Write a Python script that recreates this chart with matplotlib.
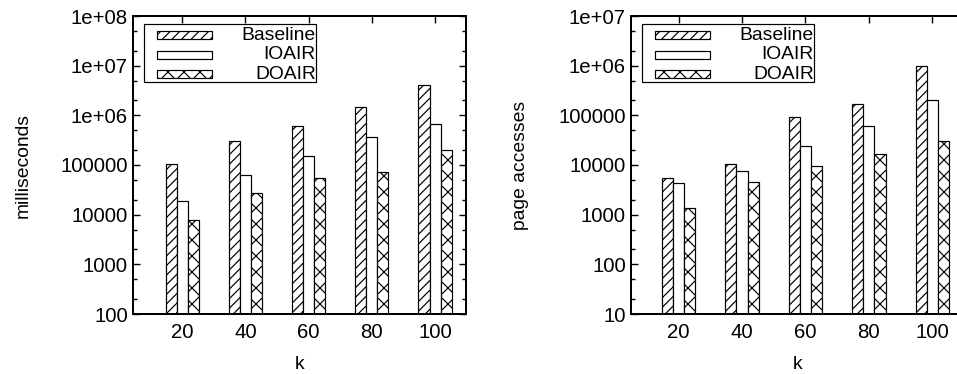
import numpy as np
import matplotlib
matplotlib.use('Agg')
from matplotlib import pyplot as plt
from matplotlib.patches import Rectangle
from matplotlib.ticker import FixedLocator, FuncFormatter, LogLocator, NullLocator

plt.rcParams['font.family'] = ['Liberation Sans', 'DejaVu Sans']
plt.rcParams['font.size'] = 9.6
plt.rcParams['hatch.linewidth'] = 0.6
plt.rcParams['axes.linewidth'] = 1.0

# k values on the x axis
k = [20, 40, 60, 80, 100]
series = ['Baseline', 'IOAIR', 'DOAIR']
hatches = ['/////', '', 'xxx']

# running time (milliseconds)
ms_baseline = [107000, 300000, 620000, 1500000, 4000000]
ms_ioair = [18500, 62000, 150000, 360000, 660000]
ms_doair = [7700, 27000, 56000, 71000, 205000]

# page accesses
pa_baseline = [5400, 10700, 93000, 166000, 1000000]
pa_ioair = [4300, 7400, 24600, 60000, 200000]
pa_doair = [1340, 4500, 9500, 16600, 31000]

def fmt(v, pos):
    if v < 1e6:
        return '%d' % int(round(v))
    return '%.0e' % v

def draw_legend(ax):
    # gnuplot-style key: sample on the left, label right-aligned
    ax.add_patch(Rectangle((0.034, 0.779), 0.516, 0.194, transform=ax.transAxes,
                           facecolor='white', edgecolor='black', lw=0.6, zorder=5))
    rows = [0.935, 0.870, 0.805]
    for name, h, yy in zip(series, hatches, rows):
        ax.add_patch(Rectangle((0.072, yy - 0.013), 0.165, 0.026, transform=ax.transAxes,
                               facecolor='white', edgecolor='black', lw=0.6, hatch=h, zorder=6))
        ax.text(0.549, yy, name, transform=ax.transAxes, ha='right', va='center', zorder=7)

def panel(ax, data, ylim, ylabel, xlim):
    x = np.arange(len(k))
    w = 0.175
    for i, (vals, h) in enumerate(zip(data, hatches)):
        ax.bar(x + (i - 1) * w, vals, w, facecolor='white', edgecolor='black',
               lw=0.6, hatch=h, zorder=2)
    ax.set_yscale('log')
    ax.set_ylim(*ylim)
    ax.set_xlim(*xlim)
    ax.xaxis.set_major_locator(FixedLocator(x))
    ax.set_xticklabels([str(v) for v in k])
    ax.xaxis.set_minor_locator(NullLocator())
    ax.yaxis.set_major_locator(LogLocator(base=10, numticks=20))
    ax.yaxis.set_minor_locator(LogLocator(base=10, subs=[2, 5], numticks=20))
    ax.yaxis.set_major_formatter(FuncFormatter(fmt))
    ax.tick_params(which='both', direction='in', top=True, right=True, width=0.7)
    ax.tick_params(which='major', length=3.5, labelsize=10.2)
    ax.tick_params(which='minor', length=2)
    ax.tick_params(axis='y', pad=2.5)
    ax.tick_params(axis='x', pad=4.5)
    ax.set_xlabel('k')
    ax.set_ylabel(ylabel)
    ax.xaxis.set_label_coords(0.5, -0.14)
    ax.yaxis.set_label_coords(-0.305, 0.5)
    draw_legend(ax)

fig = plt.figure(figsize=(957 / 144, 374 / 144), dpi=144)
ax1 = fig.add_axes([133 / 957, 60 / 374, 333 / 957, 298 / 374])
ax2 = fig.add_axes([631 / 957, 60 / 374, 333 / 957, 298 / 374])

panel(ax1, [ms_baseline, ms_ioair, ms_doair], (100, 1e8), 'milliseconds', (-0.78, 4.49))
panel(ax2, [pa_baseline, pa_ioair, pa_doair], (10, 1e7), 'page accesses', (-0.75, 4.5))

plt.savefig('out.png', dpi=144)
